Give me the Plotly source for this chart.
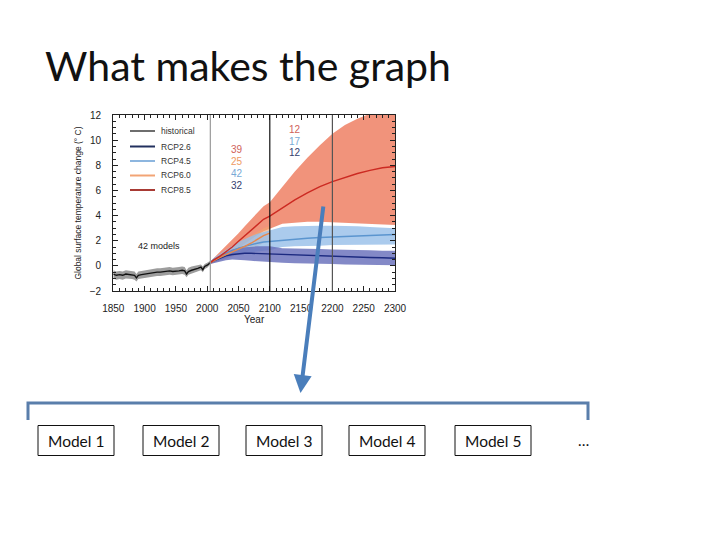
import plotly.graph_objects as go

# ---------------- data ----------------
hist_years = [1850, 1855, 1860, 1865, 1870, 1875, 1880, 1884, 1887, 1890, 1895, 1900, 1905,
              1910, 1915, 1920, 1925, 1930, 1935, 1940, 1945, 1950, 1955, 1960, 1964,
              1967, 1970, 1975, 1980, 1985, 1990, 1993, 1996, 2000, 2005]
hist_mean = [-0.65, -0.75, -0.7, -0.75, -0.65, -0.7, -0.7, -0.75, -0.95, -0.75, -0.7, -0.65, -0.6,
             -0.6, -0.55, -0.5, -0.5, -0.45, -0.45, -0.4, -0.45, -0.45, -0.4, -0.35, -0.4,
             -0.65, -0.45, -0.35, -0.3, -0.2, -0.1, -0.3, -0.05, 0.05, 0.25]
hist_upper = [-0.35, -0.45, -0.4, -0.45, -0.35, -0.4, -0.4, -0.45, -0.65, -0.45, -0.4, -0.35, -0.3,
              -0.3, -0.25, -0.2, -0.2, -0.15, -0.15, -0.1, -0.15, -0.15, -0.1, -0.05, -0.1,
              -0.35, -0.15, -0.05, 0.0, 0.05, 0.1, -0.05, 0.15, 0.25, 0.4]
hist_lower = [-1.0, -1.1, -1.05, -1.1, -1.0, -1.05, -1.05, -1.1, -1.25, -1.05, -1.0, -0.95, -0.9,
              -0.9, -0.85, -0.8, -0.8, -0.75, -0.75, -0.7, -0.75, -0.75, -0.7, -0.65, -0.7,
              -0.9, -0.7, -0.6, -0.55, -0.45, -0.35, -0.5, -0.25, -0.15, 0.1]

proj_years = [2005, 2010, 2020, 2030, 2040, 2050, 2060, 2070, 2080, 2090, 2100,
              2120, 2140, 2160, 2180, 2200, 2220, 2240, 2260, 2280, 2300]

rcp85_mean = [0.25, 0.45, 0.75, 1.1, 1.5, 1.95, 2.4, 2.85, 3.3, 3.7, 3.95,
              4.6, 5.25, 5.8, 6.3, 6.7, 7.05, 7.35, 7.6, 7.8, 7.9]
rcp85_upper = [0.35, 0.6, 1.05, 1.55, 2.05, 2.6, 3.15, 3.7, 4.25, 4.75, 5.05,
               6.3, 7.5, 8.6, 9.6, 10.5, 11.2, 11.7, 12.1, 12.4, 12.6]
rcp85_lower = [0.15, 0.3, 0.5, 0.75, 1.05, 1.4, 1.75, 2.1, 2.45, 2.75, 2.95,
               3.35, 3.45, 3.5, 3.5, 3.5, 3.45, 3.4, 3.35, 3.3, 3.25]

rcp60_years = [2005, 2010, 2020, 2030, 2040, 2050, 2060, 2070, 2080, 2090, 2100]
rcp60_mean = [0.25, 0.4, 0.65, 0.9, 1.1, 1.3, 1.55, 1.8, 2.1, 2.4, 2.6]
rcp60_upper = [0.35, 0.55, 0.9, 1.2, 1.5, 1.75, 2.05, 2.35, 2.7, 3.0, 3.2]
rcp60_lower = [0.15, 0.25, 0.4, 0.6, 0.75, 0.9, 1.1, 1.3, 1.55, 1.8, 1.95]

rcp45_mean = [0.25, 0.45, 0.7, 0.95, 1.2, 1.4, 1.55, 1.7, 1.8, 1.9, 1.95,
              2.05, 2.15, 2.2, 2.25, 2.3, 2.35, 2.4, 2.45, 2.5, 2.5]
rcp45_upper = [0.35, 0.6, 0.95, 1.3, 1.6, 1.9, 2.15, 2.35, 2.55, 2.7, 2.8,
               3.1, 3.15, 3.2, 3.2, 3.2, 3.2, 3.15, 3.1, 3.05, 3.0]
rcp45_lower = [0.15, 0.3, 0.5, 0.65, 0.8, 0.95, 1.05, 1.1, 1.15, 1.2, 1.25,
               1.5, 1.55, 1.6, 1.6, 1.65, 1.65, 1.7, 1.7, 1.7, 1.7]

rcp26_mean = [0.25, 0.4, 0.6, 0.8, 0.9, 0.97, 1.0, 1.0, 0.98, 0.95, 0.93,
              0.9, 0.87, 0.83, 0.8, 0.77, 0.74, 0.7, 0.67, 0.64, 0.6]
rcp26_upper = [0.35, 0.55, 0.85, 1.1, 1.3, 1.45, 1.5, 1.55, 1.55, 1.55, 1.55,
               1.4, 1.4, 1.35, 1.35, 1.3, 1.3, 1.25, 1.25, 1.2, 1.2]
rcp26_lower = [0.15, 0.25, 0.35, 0.45, 0.5, 0.5, 0.45, 0.4, 0.35, 0.3, 0.3,
               0.25, 0.2, 0.2, 0.15, 0.15, 0.1, 0.1, 0.1, 0.05, 0.05]

legend_labels = ["historical", "RCP2.6", "RCP4.5", "RCP6.0", "RCP8.5"]
legend_colors = ["#6e6e6e", "#22305e", "#8db6df", "#f2a475", "#a83a34"]

counts_2100 = ["39", "25", "42", "32"]
counts_2100_colors = ["#d0625a", "#ee9a62", "#78a9d6", "#34406e"]
counts_2300 = ["12", "17", "12"]
counts_2300_colors = ["#d0625a", "#78a9d6", "#34406e"]

model_labels = ["Model 1", "Model 2", "Model 3", "Model 4", "Model 5"]

x_ticks = [1850, 1900, 1950, 2000, 2050, 2100, 2150, 2200, 2250, 2300]
y_ticks = [-2, 0, 2, 4, 6, 8, 10, 12]

# ---------------- figure ----------------
W, H = 720, 540
OFF = 8  # page body margin of the browser


def px(x):
    return (x - OFF) / W


def py(y):
    return 1 - (y - OFF) / H


fig = go.Figure()


def band(xs, up, lo, color):
    fig.add_trace(go.Scatter(x=xs + xs[::-1], y=up + lo[::-1], fill="toself",
                             fillcolor=color, line=dict(width=0), mode="lines",
                             hoverinfo="skip", showlegend=False))


band(proj_years, rcp85_upper, rcp85_lower, "rgba(238,128,100,0.85)")
band(rcp60_years, rcp60_upper, rcp60_lower, "rgba(244,165,110,0.6)")
band(proj_years, rcp45_upper, rcp45_lower, "rgba(150,190,232,0.8)")
band(proj_years, rcp26_upper, rcp26_lower, "rgba(100,108,185,0.8)")
band(hist_years, hist_upper, hist_lower, "rgba(140,140,140,0.85)")


def line(xs, ys, color, name):
    fig.add_trace(go.Scatter(x=xs, y=ys, mode="lines", name=name,
                             line=dict(color=color, width=1.4), showlegend=False))


line(proj_years, rcp26_mean, "#1c2a80", "RCP2.6")
line(proj_years, rcp45_mean, "#5b95cf", "RCP4.5")
line(rcp60_years, rcp60_mean, "#e8874a", "RCP6.0")
line(proj_years, rcp85_mean, "#cc2a22", "RCP8.5")
line(hist_years, hist_mean, "#111111", "historical")

x0d, x1d = px(113.3), px(395)
y1d, y0d = py(115), py(291)

axis_font = dict(family="Liberation Sans, Arial", size=10, color="#222")

fig.update_layout(
    width=W, height=H,
    margin=dict(l=0, r=0, t=0, b=0, autoexpand=False),
    paper_bgcolor="white", plot_bgcolor="white",
    showlegend=False,
    xaxis=dict(domain=[x0d, x1d], range=[1850, 2300], tickvals=x_ticks, automargin=False,
               ticks="inside", ticklen=5, tickwidth=1, tickcolor="#222", ticklabelstandoff=8,
               minor=dict(dtick=10, ticks="inside", ticklen=3, tickcolor="#222"),
               showline=True, linecolor="#222", linewidth=1.3, mirror="allticks",
               showgrid=False, zeroline=False, tickfont=axis_font,
               title=dict(text="Year", font=axis_font, standoff=0)),
    yaxis=dict(domain=[y0d, y1d], range=[-2, 12], tickvals=y_ticks, automargin=False,
               ticks="inside", ticklen=5, tickwidth=1, tickcolor="#222", ticklabelstandoff=9,
               minor=dict(dtick=0.5, ticks="inside", ticklen=3, tickcolor="#222"),
               showline=True, linecolor="#222", linewidth=1.3, mirror="allticks",
               showgrid=False, zeroline=False, tickfont=axis_font,
               title=dict(text="Global surface temperature change (° C)",
                          font=dict(family="Liberation Sans, Arial", size=8.5, color="#222"),
                          standoff=6)),
)

# vertical reference lines
for xv, col in [(2005, "#9a9a9a"), (2100, "#111111"), (2200, "#555555")]:
    fig.add_shape(type="line", xref="x", yref="paper", x0=xv, x1=xv, y0=y0d, y1=y1d,
                  line=dict(color=col, width=1.2), layer="above")

# in-plot legend (drawn manually)
leg_ys = [131, 146.5, 161, 175.5, 190]
for lab, col, ly in zip(legend_labels, legend_colors, leg_ys):
    fig.add_shape(type="line", xref="paper", yref="paper", x0=px(130), x1=px(155),
                  y0=py(ly), y1=py(ly), line=dict(color=col, width=2))
    fig.add_annotation(xref="paper", yref="paper", x=px(159), y=py(ly), text=lab,
                       showarrow=False, xanchor="left", yanchor="middle",
                       font=dict(family="Liberation Sans, Arial", size=8.5, color="#333"))

# model counts
for i, (t, c) in enumerate(zip(counts_2100, counts_2100_colors)):
    fig.add_annotation(x=2047, y=9.27 - i * 0.95, text=t, showarrow=False,
                       xanchor="center", yanchor="middle",
                       font=dict(family="Liberation Sans, Arial", size=10, color=c))
for i, (t, c) in enumerate(zip(counts_2300, counts_2300_colors)):
    fig.add_annotation(x=2141, y=10.86 - i * 0.93, text=t, showarrow=False,
                       xanchor="center", yanchor="middle",
                       font=dict(family="Liberation Sans, Arial", size=10, color=c))
fig.add_annotation(x=1923, y=1.58, text="42 models", showarrow=False,
                   xanchor="center", yanchor="middle",
                   font=dict(family="Liberation Sans, Arial", size=9, color="#222"))

# slide title
fig.add_annotation(xref="paper", yref="paper", x=px(43), y=py(66), text="What makes the graph",
                   showarrow=False, xanchor="left", yanchor="middle",
                   font=dict(family="Lato, Open Sans, sans-serif", size=41, color="#111"))

# bracket
bx0, bx1, byt, byb = px(28), px(588), py(403), py(420)
fig.add_shape(type="path", xref="paper", yref="paper",
              path=f"M {bx0},{byb} L {bx0},{byt} L {bx1},{byt} L {bx1},{byb}",
              line=dict(color="#5a7eab", width=3))

# model boxes
box_left = [38, 143, 246, 349, 455]
for lab, bl in zip(model_labels, box_left):
    fig.add_shape(type="rect", xref="paper", yref="paper",
                  x0=px(bl), x1=px(bl + 76), y0=py(455.5), y1=py(425.5),
                  line=dict(color="#111", width=1), fillcolor="white")
    fig.add_annotation(xref="paper", yref="paper", x=px(bl + 38), y=py(440.5),
                       text=lab, showarrow=False, xanchor="center", yanchor="middle",
                       font=dict(family="Lato, Open Sans, sans-serif", size=15.5, color="#111"))
fig.add_annotation(xref="paper", yref="paper", x=px(583), y=py(440), text="…",
                   showarrow=False, xanchor="center", yanchor="middle",
                   font=dict(family="Lato, Open Sans, sans-serif", size=15, color="#111"))

# arrow
fig.add_annotation(xref="paper", yref="paper", x=px(300.5), y=py(393),
                   axref="pixel", ayref="pixel", ax=23, ay=-188, text="",
                   showarrow=True, arrowhead=2, arrowsize=0.9, arrowwidth=4,
                   arrowcolor="#4a7ebb")

fig.write_html("out.html")
